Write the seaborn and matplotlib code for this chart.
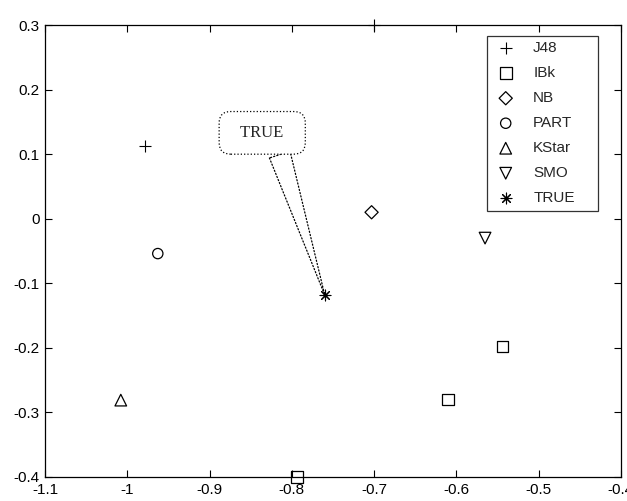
import matplotlib
matplotlib.use("Agg")
import matplotlib.pyplot as plt
import seaborn as sns
import pandas as pd

# Data
classifiers = ["J48", "IBk", "NB", "PART", "KStar", "SMO", "TRUE"]
j48_x = [-0.978, -0.700]
j48_y = [0.113, 0.300]
ibk_x = [-0.794, -0.610, -0.544]
ibk_y = [-0.400, -0.280, -0.198]
nb_x = [-0.703]
nb_y = [0.010]
part_x = [-0.963]
part_y = [-0.054]
kstar_x = [-1.008]
kstar_y = [-0.281]
smo_x = [-0.565]
smo_y = [-0.030]
true_x = [-0.760]
true_y = [-0.118]

xs = [j48_x, ibk_x, nb_x, part_x, kstar_x, smo_x, true_x]
ys = [j48_y, ibk_y, nb_y, part_y, kstar_y, smo_y, true_y]

x_ticks = [-1.1, -1.0, -0.9, -0.8, -0.7, -0.6, -0.5, -0.4]
x_labels = ["-1.1", "-1", "-0.9", "-0.8", "-0.7", "-0.6", "-0.5", "-0.4"]
y_ticks = [-0.4, -0.3, -0.2, -0.1, 0.0, 0.1, 0.2, 0.3]
y_labels = ["-0.4", "-0.3", "-0.2", "-0.1", "0", "0.1", "0.2", "0.3"]

annot_label = "TRUE"
annot_text_pos = (-0.836, 0.133)

sns.set_theme(style="white")
plt.rcParams["font.family"] = ["Liberation Sans", "DejaVu Sans"]

markers = {"J48": "+", "IBk": "s", "NB": "D", "PART": "o",
           "KStar": "^", "SMO": "v", "TRUE": (8, 2, 0)}
sizes = {"J48": 80, "IBk": 70, "NB": 45, "PART": 55,
         "KStar": 70, "SMO": 70, "TRUE": 60}
line_markers = {"J48", "TRUE"}

fig = plt.figure(figsize=(6.27, 5.01), dpi=100)
ax = fig.add_axes([0.072, 0.048, 0.918, 0.902])

for name, x, y in zip(classifiers, xs, ys):
    df = pd.DataFrame({"x": x, "y": y})
    n_before = len(ax.collections)
    if name in line_markers:
        sns.scatterplot(data=df, x="x", y="y", marker=markers[name], s=sizes[name],
                        color="black", linewidth=0.8, label=name, ax=ax, legend=False,
                        clip_on=False, zorder=5)
    else:
        sns.scatterplot(data=df, x="x", y="y", marker=markers[name], s=sizes[name],
                        edgecolor="black", linewidth=0.9, label=name, ax=ax, legend=False,
                        clip_on=False, zorder=5)
        coll = ax.collections[n_before]
        coll.set_facecolor("none")
        coll.set_edgecolor("black")

ax.set_xlim(-1.1, -0.4)
ax.set_ylim(-0.4, 0.3)
ax.set_xticks(x_ticks)
ax.set_xticklabels(x_labels)
ax.set_yticks(y_ticks)
ax.set_yticklabels(y_labels)
ax.set_xlabel("")
ax.set_ylabel("")
ax.tick_params(direction="in", length=5, width=0.8, top=True, right=True,
               bottom=True, left=True, labelsize=11, colors="black", pad=4)
for sp in ax.spines.values():
    sp.set_color("black")
    sp.set_linewidth(0.9)
    sp.set_visible(True)

ax.annotate("  " + annot_label + "  ", xy=(true_x[0], true_y[0]), xytext=annot_text_pos,
            fontsize=12, family=["Liberation Serif", "DejaVu Serif"], ha="center", va="center",
            bbox=dict(boxstyle="round,pad=0.8,rounding_size=0.7", fc="white", ec="black",
                      ls=":", lw=0.9),
            arrowprops=dict(arrowstyle="wedge,tail_width=1.3,shrink_factor=0.5", fc="white",
                            ec="black", ls=":", lw=0.9, shrinkA=0, shrinkB=0,
                            relpos=(0.72, 0.0)),
            zorder=3)

leg = ax.legend(loc="upper left", bbox_to_anchor=(0.767, 0.5, 0.193, 0.476), mode="expand",
                frameon=True, fancybox=False, edgecolor="black", fontsize=11, borderpad=0.35,
                labelspacing=0.72, handletextpad=0.9, handlelength=1.8, borderaxespad=0)
leg.get_frame().set_linewidth(0.9)

fig.savefig("out.png", dpi=100)
